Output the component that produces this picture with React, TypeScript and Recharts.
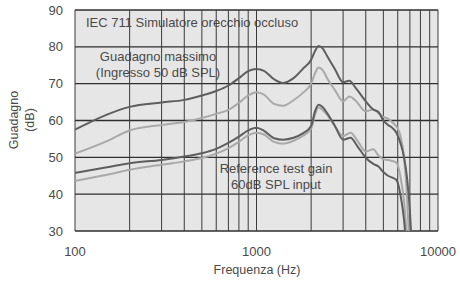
import { LineChart, Line, XAxis, YAxis, CartesianGrid, ReferenceLine, Customized } from "recharts"

// Frequenza (Hz) / Guadagno (dB)
const freqMaxDark = [100, 150, 200, 300, 400, 500, 600, 700, 800, 900, 1000, 1100, 1250, 1400, 1600, 1800, 2000, 2100, 2200, 2320, 2450, 2700, 3000, 3250, 3500, 4000, 4400, 4700, 5000, 5300, 5600, 5900, 6200, 6500, 6750, 7000, 7150]
const gainMaxDark = [57.5, 61.6, 63.7, 64.9, 65.6, 66.8, 68, 69.5, 71.5, 73.4, 74, 73.5, 71.2, 70.2, 71.5, 74, 76.5, 78.8, 80.2, 79.5, 77.5, 74, 70.4, 70.8, 69, 65.2, 63, 62.3, 60, 58.8, 58, 56.7, 54, 50, 44.5, 35.5, 27]

const freqMaxLight = [100, 150, 200, 300, 400, 500, 600, 700, 800, 900, 1000, 1100, 1250, 1400, 1600, 1800, 2000, 2100, 2200, 2320, 2450, 2700, 3000, 3250, 3500, 4000, 4400, 4700, 5000, 5300, 5600, 5900, 6200, 6500, 6700, 6900, 7000]
const gainMaxLight = [51, 54.4, 57.3, 58.8, 59.6, 60.7, 61.8, 62.9, 64.8, 66.8, 67.7, 67, 64.5, 64, 65.5, 67.5, 70, 72.8, 74.4, 73.6, 71.5, 68.3, 65.2, 66.5, 65.5, 62.5, 63, 62, 61, 60.5, 59.5, 58.4, 56, 50, 42, 30, 25]

const freqRefDark = [100, 150, 200, 300, 400, 500, 600, 700, 800, 900, 1000, 1100, 1250, 1400, 1600, 1800, 2000, 2100, 2200, 2320, 2450, 2700, 3000, 3300, 3600, 4000, 4400, 4700, 5000, 5300, 5600, 5900, 6200, 6500, 6700]
const gainRefDark = [45.8, 47.3, 48.4, 49.3, 50.2, 51.1, 52.3, 53.9, 55.6, 57.3, 58, 57.2, 55.2, 54.8, 55.3, 56.5, 58.5, 62.5, 64.3, 63.6, 62, 58.6, 54.8, 55.3, 53, 49.9, 48.2, 47.5, 46, 45, 44.5, 43.9, 40, 33, 25]

const freqRefLight = [100, 150, 200, 300, 400, 500, 600, 700, 800, 900, 1000, 1100, 1250, 1400, 1600, 1800, 2000, 2100, 2200, 2320, 2450, 2700, 3000, 3300, 3600, 4000, 4400, 4700, 5000, 5300, 5600, 5900, 6200, 6500, 6700, 6800]
const gainRefLight = [43.6, 45.3, 46.6, 48, 48.9, 49.8, 51, 52.5, 54.2, 56, 56.7, 56.2, 54.2, 53.7, 54.5, 55.8, 57.8, 61.6, 63.5, 62.8, 61.5, 58.5, 55.8, 56.7, 54.5, 51.6, 52.2, 50.5, 49.5, 49.3, 49, 48.5, 45, 38, 30, 25]

const xTicks = [100, 1000, 10000]
const yTicks = [30, 40, 50, 60, 70, 80, 90]
const gridFreqs = [100, 200, 300, 400, 500, 600, 700, 800, 900, 1000, 2000, 3000, 4000, 5000, 6000, 7000, 8000, 9000, 10000]

const toPoints = (freqs: number[], gains: number[]) => freqs.map((hz, i) => ({ hz, db: gains[i] }))

const FONT = "'Liberation Sans', Arial, sans-serif"
const TEXT = "#4a4a4a"
const DARK = "#5e5e5e"
const LIGHT = "#a9a9a9"

function Annotations() {
  return (
    <g fontFamily={FONT} fontSize={13} fill={TEXT}>
      <text x={86} y={27}>IEC 711 Simulatore orecchio occluso</text>
      <text x={158} y={61} textAnchor="middle">Guadagno massimo</text>
      <text x={158} y={77} textAnchor="middle">(Ingresso 50 dB SPL)</text>
      <text x={276} y={173} textAnchor="middle">Reference test gain</text>
      <text x={276} y={189} textAnchor="middle">60dB SPL input</text>
      <text x={257} y={273.5} textAnchor="middle" fontSize={12.5}>Frequenza (Hz)</text>
      <text transform="translate(17.5 120) rotate(-90)" textAnchor="middle" fontSize={12.5}>Guadagno</text>
      <text transform="translate(33.5 120) rotate(-90)" textAnchor="middle" fontSize={12.5}>(dB)</text>
    </g>
  )
}

export default function App() {
  const tick = { fontSize: 13, fill: TEXT, fontFamily: FONT }
  return (
    <div style={{ width: 460, height: 283, background: "#fff" }}>
      <style>{`body{margin:0}`}</style>
      <LineChart width={460} height={283} margin={{ top: 10, right: 22, bottom: 0, left: 0 }}>
        <CartesianGrid
          vertical={false}
          stroke="#2e2e2e"
          strokeWidth={1.3}
          fill="#e6e6e6"
          fillOpacity={1}
        />
        <XAxis
          dataKey="hz"
          type="number"
          scale="log"
          domain={[100, 10000]}
          ticks={xTicks}
          allowDataOverflow
          height={52}
          tick={tick}
          tickSize={0}
          tickLine={false}
          tickMargin={16}
          axisLine={false}
        />
        <YAxis
          type="number"
          domain={[30, 90]}
          ticks={yTicks}
          allowDataOverflow
          width={75}
          tick={tick}
          tickSize={0}
          tickLine={false}
          tickMargin={12}
          axisLine={false}
        />
        {gridFreqs.map((f) => (
          <ReferenceLine key={f} x={f} stroke="#3a3a3a" strokeWidth={1} />
        ))}
        <Line data={toPoints(freqMaxLight, gainMaxLight)} dataKey="db" type="monotone" stroke={LIGHT} strokeWidth={2} dot={false} isAnimationActive={false} />
        <Line data={toPoints(freqRefLight, gainRefLight)} dataKey="db" type="monotone" stroke={LIGHT} strokeWidth={2} dot={false} isAnimationActive={false} />
        <Line data={toPoints(freqMaxDark, gainMaxDark)} dataKey="db" type="monotone" stroke={DARK} strokeWidth={2} dot={false} isAnimationActive={false} />
        <Line data={toPoints(freqRefDark, gainRefDark)} dataKey="db" type="monotone" stroke={DARK} strokeWidth={2} dot={false} isAnimationActive={false} />
        <Customized component={<Annotations />} />
      </LineChart>
    </div>
  )
}
